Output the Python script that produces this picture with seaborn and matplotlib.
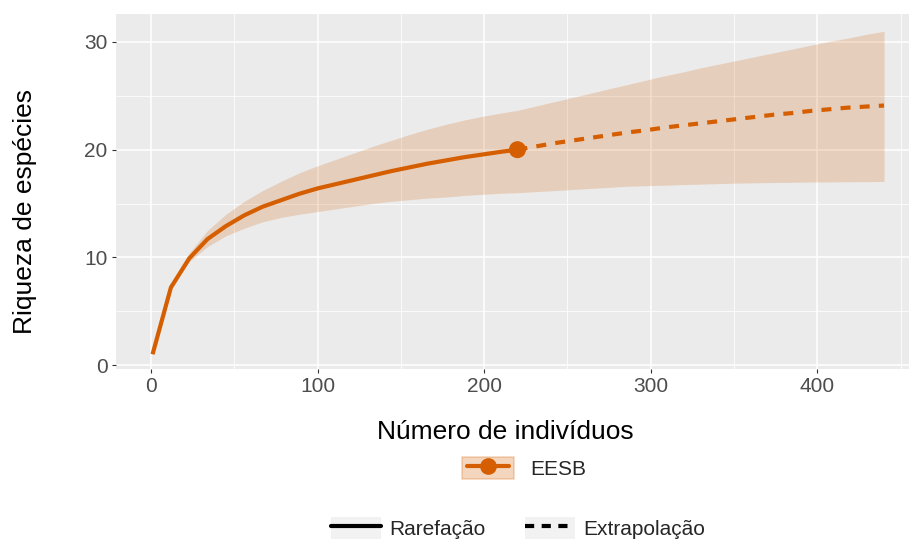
import matplotlib
matplotlib.use("Agg")
import matplotlib.pyplot as plt
from matplotlib.patches import Patch
from matplotlib.lines import Line2D
from matplotlib.legend_handler import HandlerLine2D
import numpy as np
import pandas as pd
import seaborn as sns

# ---------------- data ----------------
rare_x = [1, 12, 23, 34, 45, 56, 67, 78, 89, 100, 111, 122, 133, 144, 155,
          166, 177, 188, 199, 210, 220]
rare_y = [1.0, 7.2, 9.9, 11.7, 12.9, 13.9, 14.7, 15.3, 15.9, 16.4, 16.8, 17.2,
          17.6, 18.0, 18.35, 18.7, 19.0, 19.3, 19.55, 19.8, 20.0]
rare_lo = [1.0, 7.1, 9.6, 11.0, 12.0, 12.7, 13.3, 13.7, 14.0, 14.25, 14.5,
           14.75, 15.0, 15.2, 15.35, 15.5, 15.6, 15.75, 15.85, 15.95, 16.0]
rare_hi = [1.0, 7.3, 10.4, 12.5, 14.0, 15.2, 16.2, 17.05, 17.85, 18.5, 19.1,
           19.7, 20.3, 20.85, 21.4, 21.9, 22.35, 22.75, 23.1, 23.4, 23.65]

extra_x = [220, 231, 242, 253, 264, 275, 286, 297, 308, 319, 330, 341, 352,
           363, 374, 385, 396, 407, 418, 429, 440]
extra_y = [20.0, 20.3, 20.6, 20.85, 21.1, 21.35, 21.6, 21.8, 22.05, 22.25,
           22.45, 22.65, 22.85, 23.05, 23.25, 23.4, 23.6, 23.75, 23.9, 24.0, 24.1]
extra_lo = [16.0, 16.1, 16.2, 16.3, 16.4, 16.5, 16.6, 16.65, 16.7, 16.75,
            16.8, 16.85, 16.9, 16.92, 16.95, 16.97, 17.0, 17.0, 17.02, 17.03, 17.05]
extra_hi = [23.65, 24.05, 24.45, 24.85, 25.25, 25.65, 26.05, 26.45, 26.85, 27.2,
            27.6, 27.95, 28.3, 28.65, 29.0, 29.35, 29.7, 30.05, 30.35, 30.7, 31.0]

obs_x = [220]
obs_y = [20.0]

site = "EESB"
method_labels = ["Rarefação", "Extrapolação"]
x_ticks = [0, 100, 200, 300, 400]
y_ticks = [0, 10, 20, 30]

# ---------------- style ----------------
sns.set_theme(style="darkgrid")
plt.rcParams["font.family"] = ["Liberation Sans", "DejaVu Sans"]

ORANGE = "#D55E00"
PANEL = "#EBEBEB"

df_rare = pd.DataFrame({"x": rare_x, "y": rare_y, "lo": rare_lo, "hi": rare_hi})
df_extra = pd.DataFrame({"x": extra_x, "y": extra_y, "lo": extra_lo, "hi": extra_hi})
df_obs = pd.DataFrame({"x": obs_x, "y": obs_y})

fig = plt.figure(figsize=(9.09, 5.40), dpi=100)
fig.patch.set_facecolor("white")
W, H = 909, 540
left_px, right_px, top_px, bot_px = 116, 920.6, 14, 369
ax = fig.add_axes([left_px / W, 1 - bot_px / H, (right_px - left_px) / W,
                   (bot_px - top_px) / H])
ax.set_facecolor(PANEL)

# confidence band
band_x = rare_x + extra_x[1:]
band_lo = rare_lo + extra_lo[1:]
band_hi = rare_hi + extra_hi[1:]
ax.fill_between(band_x, band_lo, band_hi, color=ORANGE, alpha=0.2, lw=0, zorder=2)

sns.lineplot(data=df_rare, x="x", y="y", ax=ax, color=ORANGE, lw=3.0,
             zorder=3, solid_capstyle="butt")
sns.lineplot(data=df_extra, x="x", y="y", ax=ax, color=ORANGE, lw=3.0,
             linestyle=(0, (2.4, 2.2)), zorder=3, dash_capstyle="butt")
sns.scatterplot(data=df_obs, x="x", y="y", ax=ax, color=ORANGE, s=150,
                edgecolor="none", zorder=4)

# axes limits (ggplot 5% expansion)
xmin, xmax = 1, 440
xr = xmax - xmin
ax.set_xlim(xmin - 0.05 * xr, xmax + 0.05 * xr)
ax.set_ylim(-0.37, 32.6)

ax.set_xticks(x_ticks)
ax.set_yticks(y_ticks)
ax.set_xticks([50, 150, 250, 350, 450], minor=True)
ax.set_yticks([5, 15, 25], minor=True)
ax.grid(which="major", color="white", lw=1.1)
ax.grid(which="minor", color="white", lw=0.55)
ax.set_axisbelow(True)
for s in ax.spines.values():
    s.set_visible(False)

ax.tick_params(axis="both", which="major", length=3, width=0.8, color="#333333",
               labelsize=15, labelcolor="#4D4D4D", pad=3)
ax.tick_params(axis="both", which="minor", length=0)
ax.tick_params(axis="x", bottom=True)
ax.tick_params(axis="y", left=True)

ax.set_xlabel("Número de indivíduos", fontsize=19, color="black")
ax.set_ylabel("Riqueza de espécies", fontsize=19, color="black")
ax.xaxis.set_label_coords((505 - left_px) / (right_px - left_px), -(432 - bot_px) / (bot_px - top_px))
ax.xaxis.label.set_verticalalignment("center")
ax.yaxis.set_label_coords(-(116 - 25) / (right_px - left_px), (bot_px - 211) / (bot_px - top_px))
ax.yaxis.label.set_verticalalignment("center")


class ShortLine(HandlerLine2D):
    def create_artists(self, legend, orig_handle, xdescent, ydescent, width,
                       height, fontsize, trans):
        pad = 0.1 * width
        return super().create_artists(legend, orig_handle, xdescent - pad, ydescent,
                                      width - 2 * pad, height, fontsize, trans)


# legends
h1 = (Patch(facecolor=ORANGE, alpha=0.25, edgecolor=ORANGE, lw=1.2),
      Line2D([], [], color=ORANGE, lw=3, marker="o", markersize=11))
leg1 = fig.legend([h1], [site], loc="center", bbox_to_anchor=(524 / W, 1 - 468 / H),
                  frameon=False, fontsize=15, handlelength=2.5, handleheight=1.3,
                  handletextpad=0.75, numpoints=1,
                  handler_map={Line2D: ShortLine()})

key_bg = Patch(facecolor="#F2F2F2", edgecolor="none")
h2 = (key_bg, Line2D([], [], color="black", lw=3))
h3 = (key_bg, Line2D([], [], color="black", lw=3, linestyle=(0, (2.2, 1.8))))
leg2 = fig.legend([h2, h3], method_labels, loc="center", ncol=2,
                  bbox_to_anchor=(518 / W, 1 - 528 / H), frameon=False, fontsize=15,
                  handlelength=2.4, handleheight=1.2, handletextpad=0.4,
                  columnspacing=1.9)

fig.savefig("out.png", dpi=100, facecolor="white")
